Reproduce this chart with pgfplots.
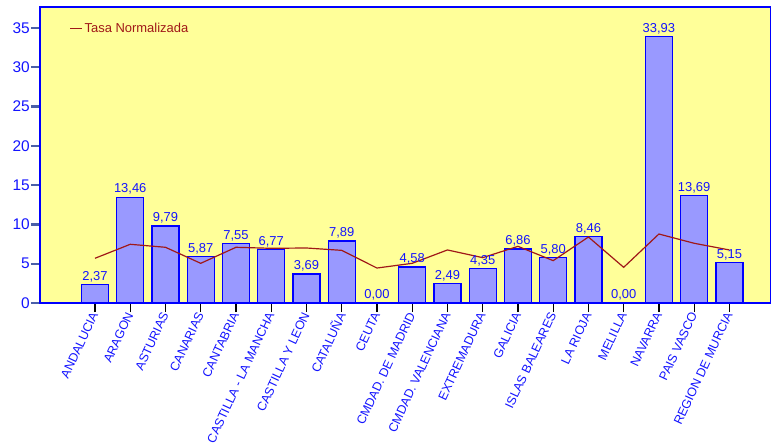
\documentclass[border=0pt]{standalone}
\usepackage{fontspec}
\setmainfont{Liberation Sans}
\usepackage{pgfplots}
\pgfplotsset{compat=1.18}
\definecolor{bg}{HTML}{FFFF99}
\definecolor{barfill}{HTML}{9999FF}
\definecolor{txtblue}{HTML}{1414FF}
\definecolor{linered}{HTML}{A01818}
\definecolor{tickgray}{HTML}{4A5FA8}
\begin{document}
\begin{tikzpicture}
\useasboundingbox (-40bp,-144bp) rectangle (731bp,303bp);
\begin{axis}[
  at={(0,0)}, anchor=south west,
  scale only axis, width=731bp, height=296bp,
  xmin=-1.56, xmax=19.18, ymin=0, ymax=37.67,
  axis background/.style={fill=bg},
  axis line style={draw=blue, line width=1.5pt},
  xtick={0,...,18},
  xticklabels={ANDALUCIA, ARAGON, ASTURIAS, CANARIAS, CANTABRIA, CASTILLA - LA MANCHA, CASTILLA Y LEON, CATALUÑA, CEUTA, CMDAD. DE MADRID, CMDAD. VALENCIANA, EXTREMADURA, GALICIA, ISLAS BALEARES, LA RIOJA, MELILLA, NAVARRA, PAIS VASCO, REGION DE MURCIA},
  ytick={0,5,...,35},
  xtick pos=bottom, ytick pos=left,
  tick align=outside, major tick length=9bp,
  xtick style={black, line width=1.2pt},
  ytick style={tickgray, line width=2.2pt},
  /pgf/number format/assume math mode=true,
  xticklabel style={rotate=65, anchor=east, font=\fontsize{12.5}{14}\selectfont, text=txtblue, inner sep=1bp},
  yticklabel style={font=\fontsize{15.5}{17}\selectfont, text=txtblue, inner sep=1bp},
  legend style={at={(0.04,0.926)}, anchor=west, draw=none, fill=none, font=\fontsize{13}{15}\selectfont, text=linered, inner sep=0pt},
  legend cell align=left,
  legend image code/.code={\draw[#1] (0bp,0bp) -- (12bp,0bp);},
]
\addplot[ybar, bar width=27bp, fill=barfill, draw=blue, line width=1.2pt, forget plot,
  nodes near coords={\pgfmathprintnumber[fixed,fixed zerofill,precision=2,use comma,assume math mode=true]{\pgfplotspointmeta}},
  every node near coord/.append style={font=\fontsize{13}{15}\selectfont, text=txtblue, inner sep=2bp}]
coordinates {
(0,2.37) (1,13.46) (2,9.79) (3,5.87) (4,7.55) (5,6.77) (6,3.69) (7,7.89) (8,0)
(9,4.58) (10,2.49) (11,4.35) (12,6.86) (13,5.80) (14,8.46) (15,0) (16,33.93) (17,13.69) (18,5.15)
};
\addplot[linered, line width=1.2pt, mark=none]
coordinates {
(0,5.69) (1,7.47) (2,7.09) (3,5.05) (4,7.09) (5,6.96) (6,7.00) (7,6.70) (8,4.45)
(9,5.05) (10,6.75) (11,5.77) (12,7.21) (13,5.39) (14,8.40) (15,4.54) (16,8.78) (17,7.60) (18,6.75)
};
\addlegendentry{Tasa Normalizada}
\end{axis}
\end{tikzpicture}
\end{document}
